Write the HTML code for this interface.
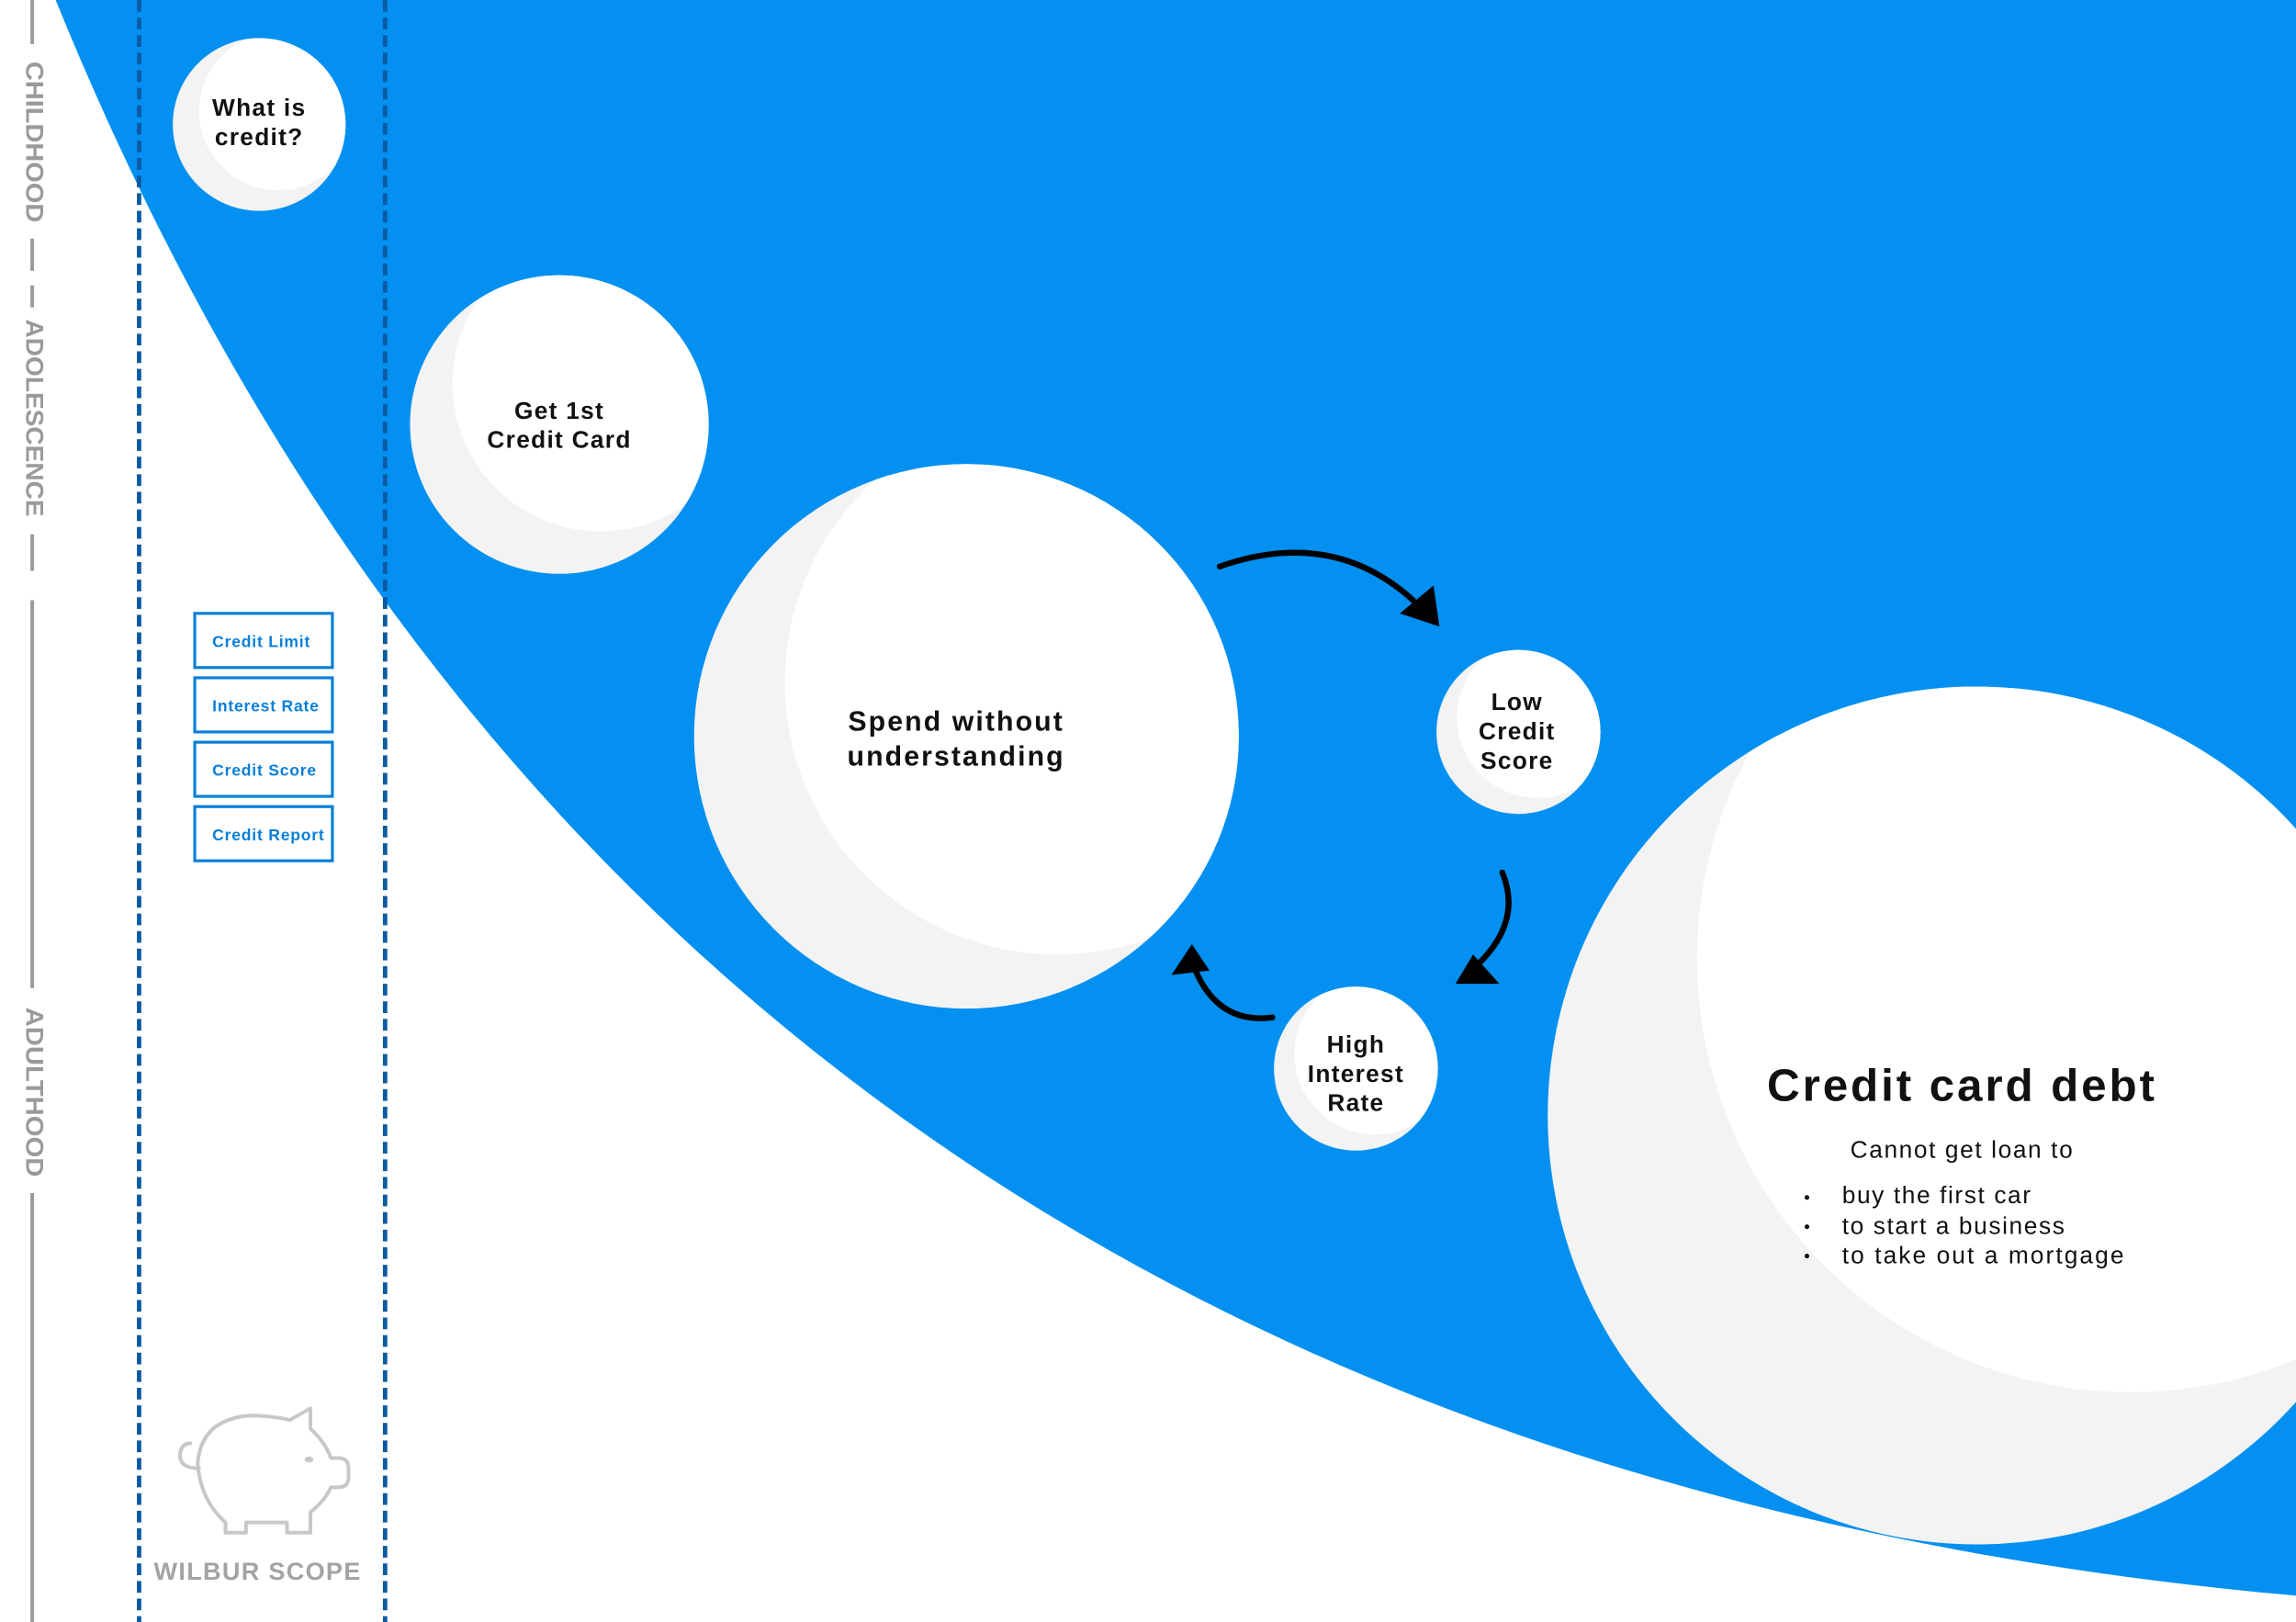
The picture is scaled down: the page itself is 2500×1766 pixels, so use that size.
<!DOCTYPE html>
<html><head><meta charset="utf-8"><style>
html,body{margin:0;padding:0;background:#fff;}
svg{display:block;}
text{font-family:"Liberation Sans",sans-serif;}
</style></head><body>
<svg width="2500" height="1766" viewBox="0 0 1568 1108" preserveAspectRatio="none" xmlns="http://www.w3.org/2000/svg">
<defs>
<clipPath id="c1"><circle cx="177" cy="85" r="59"/></clipPath>
<clipPath id="c2"><circle cx="382" cy="290" r="102"/></clipPath>
<clipPath id="c3"><circle cx="660" cy="503" r="186"/></clipPath>
<clipPath id="c4"><circle cx="1037" cy="500" r="56"/></clipPath>
<clipPath id="c5"><circle cx="926" cy="730" r="56"/></clipPath>
<clipPath id="c6"><circle cx="1350" cy="762" r="293"/></clipPath>
</defs>
<rect width="1568" height="1108" fill="#fff"/>
<path d="M38,0 Q440,990 1568,1090 L1568,0 Z" fill="#0390f1"/>

<line x1="95" y1="0" x2="95" y2="1108" stroke="#0b5aa2" stroke-width="3" stroke-dasharray="8,4"/>
<line x1="263" y1="0" x2="263" y2="1108" stroke="#0b5aa2" stroke-width="3" stroke-dasharray="8,4"/>

<g>
<circle cx="177" cy="85" r="59" fill="#f3f3f3"/>
<circle cx="190" cy="76" r="54" fill="#fff" clip-path="url(#c1)"/>
<circle cx="382" cy="290" r="102" fill="#f3f3f3"/>
<circle cx="410" cy="262" r="101" fill="#fff" clip-path="url(#c2)"/>
<circle cx="660" cy="503" r="186" fill="#f3f3f3"/>
<circle cx="722" cy="466" r="186" fill="#fff" clip-path="url(#c3)"/>
<circle cx="1037" cy="500" r="56" fill="#f3f3f3"/>
<circle cx="1050" cy="490" r="55" fill="#fff" clip-path="url(#c4)"/>
<circle cx="926" cy="730" r="56" fill="#f3f3f3"/>
<circle cx="939" cy="720" r="55" fill="#fff" clip-path="url(#c5)"/>
<circle cx="1350" cy="762" r="293" fill="#f3f3f3"/>
<circle cx="1455" cy="655" r="296" fill="#fff" clip-path="url(#c6)"/>
</g>

<g font-weight="bold" fill="#111" text-anchor="middle" font-size="16.5" letter-spacing="0.8">
<text x="177" y="79">What is</text><text x="177" y="99">credit?</text>
<text x="382" y="286">Get 1st</text><text x="382" y="306">Credit Card</text>
<text x="653" y="499" font-size="19" letter-spacing="1.3">Spend without</text><text x="653" y="523" font-size="19" letter-spacing="1.3">understanding</text>
<text x="1036" y="485">Low</text><text x="1036" y="505">Credit</text><text x="1036" y="525">Score</text>
<text x="926" y="719">High</text><text x="926" y="739">Interest</text><text x="926" y="759">Rate</text>
<text x="1340" y="752" font-size="31" letter-spacing="1.8">Credit card debt</text>
</g>
<g fill="#111" font-size="16.5" letter-spacing="1">
<text x="1340" y="791" text-anchor="middle">Cannot get loan to</text>
<text x="1258" y="822">buy the first car</text>
<text x="1258" y="843">to start a business</text>
<text x="1258" y="863" letter-spacing="1.3">to take out a mortgage</text>
<circle cx="1234" cy="818" r="1.6"/><circle cx="1234" cy="838" r="1.6"/><circle cx="1234" cy="858" r="1.6"/>
</g>

<g fill="none" stroke="#000" stroke-width="4" stroke-linecap="round">
<path d="M833,387 Q910,360 965,410"/>
<path d="M1026,596 Q1040,630 1008,660"/>
<path d="M869,695 Q832,700 816,662"/>
</g>
<g fill="#000">
<polygon points="983,428 979,400 956,419"/>
<polygon points="994,672 1024,672 1006,652"/>
<polygon points="814,645 800,666 826,663"/>
</g>

<g stroke="#9a9a9a" stroke-width="2.5">
<line x1="22" y1="0" x2="22" y2="30"/>
<line x1="22" y1="163" x2="22" y2="185"/>
<line x1="22" y1="195" x2="22" y2="210"/>
<line x1="22" y1="365" x2="22" y2="390"/>
<line x1="22" y1="410" x2="22" y2="675"/>
<line x1="22" y1="815" x2="22" y2="1108"/>
</g>
<g fill="#9a9a9a" font-weight="bold" font-size="17" style="font-family:'Liberation Sans Narrow','Liberation Sans',sans-serif">
<text transform="translate(18,42) rotate(90)" textLength="110" lengthAdjust="spacingAndGlyphs">CHILDHOOD</text>
<text transform="translate(18,218) rotate(90)" textLength="135" lengthAdjust="spacingAndGlyphs">ADOLESCENCE</text>
<text transform="translate(18,688) rotate(90)" textLength="116" lengthAdjust="spacingAndGlyphs">ADULTHOOD</text>
</g>

<g fill="#fff" stroke="#0a7fd8" stroke-width="2">
<rect x="133" y="419" width="94" height="37"/>
<rect x="133" y="463" width="94" height="37"/>
<rect x="133" y="507" width="94" height="37"/>
<rect x="133" y="551" width="94" height="37"/>
</g>
<g fill="#0a7fd8" font-weight="bold" font-size="11" letter-spacing="0.5">
<text x="145" y="442">Credit Limit</text>
<text x="145" y="486">Interest Rate</text>
<text x="145" y="530">Credit Score</text>
<text x="145" y="574">Credit Report</text>
</g>

<g fill="none" stroke="#c8c8c8" stroke-width="2.5" stroke-linejoin="round" stroke-linecap="round">
<path d="M154,1040 L154,1047 L168,1047 L168,1040 L196,1040 L196,1047 L212,1047 L212,1033 Q222,1025 226,1016 L231,1016 Q238,1016 238,1009 L238,1003 Q238,996 231,996 L226,996 Q222,985 212,976 L212,962 L198,970 Q185,967 170,967 Q137,970 135,1000 Q137,1025 154,1040 Z"/>
<path d="M136,1003 Q122,1003 123,993 Q124,986 130,986"/>
</g>
<ellipse cx="211" cy="997" rx="3" ry="2" fill="#c8c8c8"/>
<text x="176" y="1079" text-anchor="middle" fill="#a3a3a3" font-weight="bold" font-size="17" letter-spacing="0.8">WILBUR SCOPE</text>
</svg>
</body></html>
